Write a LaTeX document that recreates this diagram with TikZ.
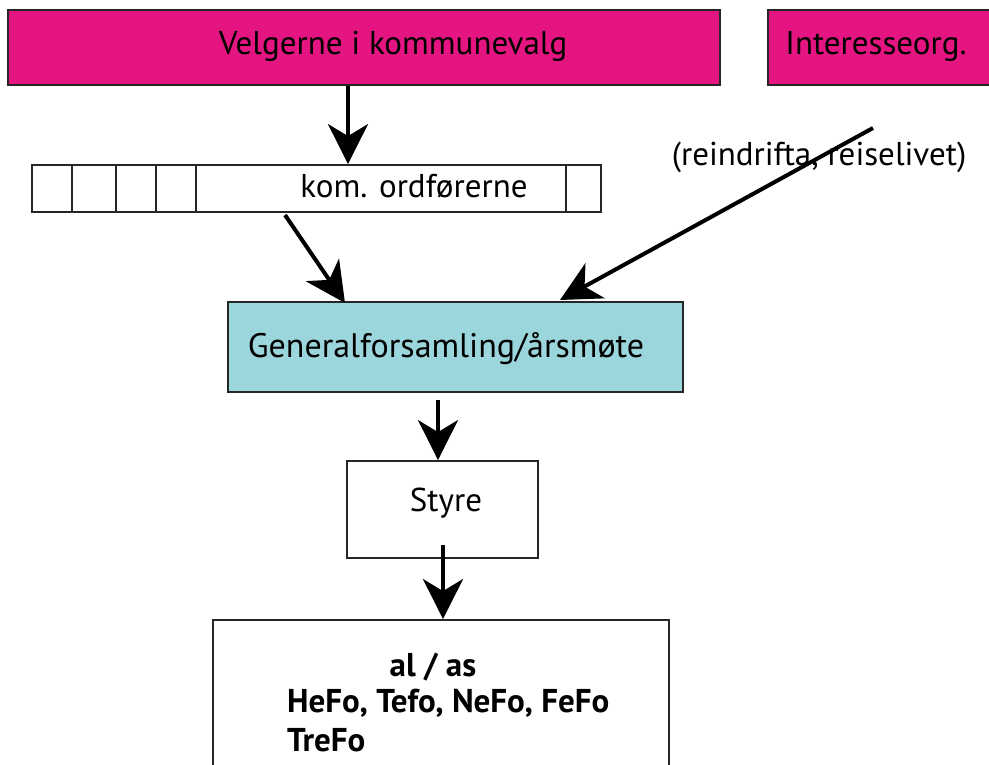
\documentclass[tikz,border=0pt]{standalone}
\usepackage{fontspec}
\setmainfont{PT Sans}
\usetikzlibrary{arrows.meta}
\definecolor{mag}{RGB}{228,20,128}
\definecolor{teal2}{RGB}{155,214,220}
\tikzset{
  box/.style={draw=black!85, line width=1.8pt, inner sep=0pt},
  arr/.style={line width=4pt, -{Stealth[length=40pt,width=40pt,inset=12pt]}},
  lbl/.style={font=\fontsize{33}{36}\selectfont},
  glbl/.style={font=\fontsize{34}{38}\selectfont},
  blbl/.style={font=\bfseries\fontsize{33}{36}\selectfont, inner sep=0pt}
}
\begin{document}
\begin{tikzpicture}[x=1pt,y=-1pt]
\useasboundingbox[fill=white] (0,0) rectangle (989,765);
\node[box, fill=mag, minimum width=712pt, minimum height=75pt] (velg) at (364,47.5) {};
\node[lbl] at (393,46) {Velgerne i kommunevalg};
\node[box, fill=mag, minimum width=240pt, minimum height=75pt] (int) at (888,47.5) {};
\node[lbl] at (876,46) {Interesseorg.};
\node[box, fill=white, minimum width=569pt, minimum height=47pt] (kom) at (316.5,188.5) {};
\foreach \x in {72,116,156,196,566} \draw[black!85, line width=1.6pt] (\x,165) -- (\x,212);
\node[lbl] (komt) at (414,186) {kom. ordførerne};
\node[lbl] (rein) at (819,157) {(reindrifta, reiselivet)};
\node[box, fill=teal2, minimum width=455pt, minimum height=90pt] (gen) at (455.5,347) {};
\node[glbl] at (446,349) {Generalforsamling/årsmøte};
\node[box, fill=white, minimum width=191pt, minimum height=97pt] (sty) at (442.5,509.5) {};
\node[lbl] at (446,503) {Styre};
\node[box, fill=white, minimum width=456pt, minimum height=170pt] (bot) at (441,705) {};
\node[blbl] at (433,667) {al / as};
\node[blbl, anchor=west] at (287,703) {HeFo, Tefo, NeFo, FeFo};
\node[blbl, anchor=west] at (287,740) {TreFo};
\coordinate (c1) at (873,128);
\draw[arr] (velg.south -| 348,0) -- (kom.north -| 348,0);
\draw[arr] (285,215) -- (345,303);
\draw[arr] (c1) -- (560,300);
\draw[arr] (438,400) -- (sty.north -| 438,0);
\draw[arr] (443,545) -- (bot.north -| 443,0);
\end{tikzpicture}
\end{document}
